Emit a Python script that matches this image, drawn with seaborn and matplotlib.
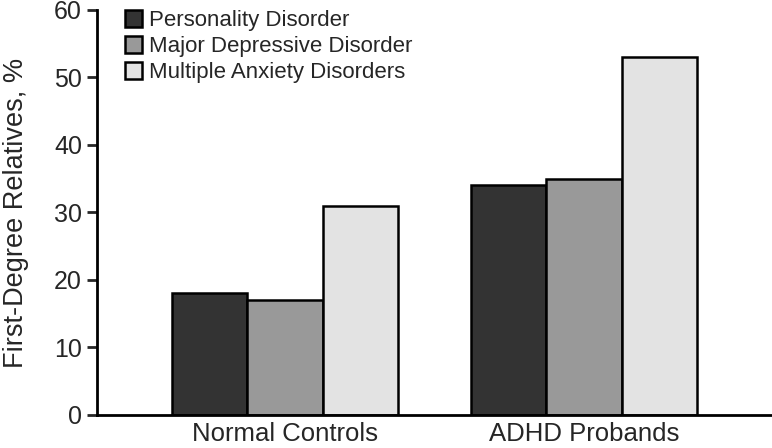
import matplotlib
matplotlib.use("Agg")
import matplotlib.pyplot as plt
import seaborn as sns
import pandas as pd

groups = ["Normal Controls", "ADHD Probands"]
disorders = ["Personality Disorder", "Major Depressive Disorder", "Multiple Anxiety Disorders"]
personality = [18, 34]
depressive = [17, 35]
anxiety = [31, 53]
yticks = [0, 10, 20, 30, 40, 50, 60]

rows = []
for i, g in enumerate(groups):
    rows.append((g, disorders[0], personality[i]))
    rows.append((g, disorders[1], depressive[i]))
    rows.append((g, disorders[2], anxiety[i]))
df = pd.DataFrame(rows, columns=["group", "disorder", "value"])

sns.set_style("white")
plt.rcParams['font.family'] = ['Liberation Sans', 'DejaVu Sans']

fig = plt.figure(figsize=(7.72, 4.48), dpi=100)
ax = fig.add_axes([0.1256, 0.0737, 0.8744, 0.904])
palette = ["#333333", "#999999", "#e3e3e3"]
sns.barplot(data=df, x="group", y="value", hue="disorder", palette=palette,
            width=0.755, edgecolor="black", linewidth=1.8, saturation=1, ax=ax)
ax.set_xlim(-0.629, 1.629)
ax.set_ylim(0, 60)
ax.set_yticks(yticks)
ax.set_xlabel("")
ax.set_ylabel("First-Degree Relatives, %", fontsize=19.5, labelpad=18)
sns.despine(ax=ax)
for s in ["left", "bottom"]:
    ax.spines[s].set_linewidth(2)
    ax.spines[s].set_color("black")
ax.tick_params(axis="y", direction="out", length=7.2, width=2, labelsize=18, left=True, pad=3.5)
ax.tick_params(axis="x", length=0, labelsize=18.5, pad=5)
leg = ax.legend(loc="upper left", bbox_to_anchor=(0.0415, 0.999), frameon=False, fontsize=16,
                borderaxespad=0, borderpad=0,
                handlelength=0.78, handleheight=0.78, handletextpad=0.32, labelspacing=0.22)
fig.savefig("out.png", dpi=100)
